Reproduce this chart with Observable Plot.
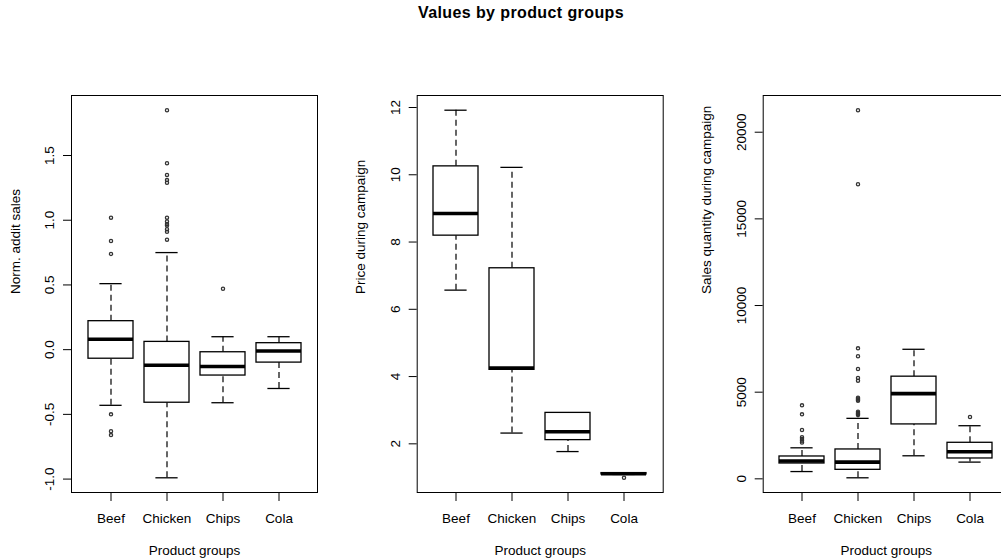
<!DOCTYPE html>
<html>
<head>
<meta charset="utf-8">
<script src="https://cdn.jsdelivr.net/npm/d3@7"></script>
<script src="https://cdn.jsdelivr.net/npm/@observablehq/plot@0.6"></script>
<style>
  html, body { margin: 0; padding: 0; background: #fff; overflow: hidden; }
  #wrap { position: relative; width: 1001px; height: 560px; overflow: hidden; }
  #title { position: absolute; left: 0; width: 1042px; top: 4px; text-align: center;
           font: bold 16px "Liberation Sans", Arial, sans-serif; letter-spacing: 0.4px; line-height: 1.15; color: #000; }
  .panel { position: absolute; top: 0; }
</style>
</head>
<body>
<div id="wrap">
  <div id="title">Values by product groups</div>
</div>
<script>
// ---------- data ----------
const groups = ["Beef", "Chicken", "Chips", "Cola"];

// Panel 1: Norm. addit sales
const normWhiskerLo = [-0.43, -0.99, -0.41, -0.30];
const normQ1        = [-0.07, -0.41, -0.20, -0.10];
const normMedian    = [ 0.08, -0.12, -0.13, -0.01];
const normQ3        = [ 0.22,  0.06, -0.02,  0.05];
const normWhiskerHi = [ 0.51,  0.75,  0.10,  0.10];
const normOutliers  = [
  [1.02, 0.84, 0.74, -0.50, -0.63, -0.66],
  [1.85, 1.44, 1.35, 1.31, 1.29, 1.02, 0.99, 0.97, 0.96, 0.93, 0.91, 0.85],
  [0.47],
  []
];
const normTicks = [-1.0, -0.5, 0.0, 0.5, 1.0, 1.5];

// Panel 2: Price during campaign
const priceWhiskerLo = [6.57, 2.32, 1.77, 1.09];
const priceQ1        = [8.19, 4.20, 2.11, 1.09];
const priceMedian    = [8.85, 4.25, 2.36, 1.11];
const priceQ3        = [10.25, 7.22, 2.92, 1.13];
const priceWhiskerHi = [11.92, 10.22, 2.92, 1.13];
const priceOutliers  = [[], [], [], [0.99]];
const priceTicks = [2, 4, 6, 8, 10, 12];

// Panel 3: Sales quantity during campaign
const qtyWhiskerLo = [420, 60, 1330, 965];
const qtyQ1        = [885, 520, 3140, 1175];
const qtyMedian    = [1025, 965, 4915, 1560];
const qtyQ3        = [1290, 1695, 5895, 2080];
const qtyWhiskerHi = [1790, 3490, 7475, 3065];
const qtyOutliers  = [
  [4240, 3720, 2815, 2400, 2300, 2200, 2100],
  [21270, 16995, 7530, 7070, 6340, 5820, 5665, 4680, 4620, 4560, 4500, 3870, 3800, 3740, 3680],
  [],
  [3565]
];
const qtyTicks = [0, 5000, 10000, 15000, 20000];

const xTitle = "Product groups";

// ---------- drawing ----------
const FONT = '"Liberation Sans", Arial, sans-serif';
const FS = 13.5;

function panel(cfg) {
  const stats = groups.map((g, i) => ({
    group: g, lo: cfg.lo[i], q1: cfg.q1[i], med: cfg.med[i], q3: cfg.q3[i], hi: cfg.hi[i]
  }));
  const outs = groups.flatMap((g, i) => cfg.out[i].map(v => ({group: g, value: v})));
  const all = stats.flatMap(s => [s.lo, s.hi]).concat(outs.map(o => o.value));
  const mn = d3.min(all), mx = d3.max(all), pad = (mx - mn) * 0.04;
  const frameW = 246;
  const width = 330;
  const bw = frameW / (groups.length - 0.2 + 2 * 0.26) * 0.8;
  const stapleInset = bw / 4;

  return Plot.plot({
    width, height: 560,
    marginLeft: cfg.ml, marginRight: width - cfg.ml - frameW,
    marginTop: 95, marginBottom: 68,
    style: {fontFamily: FONT, fontSize: FS + "px", color: "#000", background: "transparent", overflow: "visible"},
    x: {type: "band", domain: groups, paddingInner: 0.2, paddingOuter: 0.26, label: null, axis: null},
    y: {domain: [mn - pad, mx + pad], label: null, axis: null},
    marks: [
      Plot.frame({stroke: "#000", strokeWidth: 1}),
      // whiskers (dashed)
      Plot.ruleX(stats, {x: "group", y1: "q3", y2: "hi", stroke: "#000", strokeWidth: 1.2, strokeDasharray: "6,4"}),
      Plot.ruleX(stats, {x: "group", y1: "lo", y2: "q1", stroke: "#000", strokeWidth: 1.2, strokeDasharray: "6,4"}),
      // staples
      Plot.tickY(stats, {x: "group", y: "hi", stroke: "#000", strokeWidth: 1.3, insetLeft: stapleInset, insetRight: stapleInset}),
      Plot.tickY(stats, {x: "group", y: "lo", stroke: "#000", strokeWidth: 1.3, insetLeft: stapleInset, insetRight: stapleInset}),
      // boxes
      Plot.barY(stats, {x: "group", y1: "q1", y2: "q3", fill: "#fff", stroke: "#000", strokeWidth: 1.3}),
      // medians
      Plot.tickY(stats, {x: "group", y: "med", stroke: "#000", strokeWidth: 3.6}),
      // outliers
      Plot.dot(outs, {x: "group", y: "value", r: 1.6, stroke: "#333", strokeWidth: 1.3, fill: "none"}),
      // axes
      Plot.axisY({ticks: cfg.ticks, tickFormat: cfg.fmt, tickSize: 8, tickPadding: 9.5, tickRotate: -90,
                  label: null, fontSize: FS}),
      Plot.axisX({tickSize: 9, tickPadding: 12, label: null, fontSize: FS}),
      Plot.text([cfg.ylab], {frameAnchor: "left", rotate: -90, dx: -52, lineAnchor: "bottom", fontSize: FS, fill: "#000"}),
      Plot.text([xTitle], {frameAnchor: "bottom", dy: 62, lineAnchor: "bottom", fontSize: FS, fill: "#000"})
    ]
  });
}

const panels = [
  {left: 0, ml: 71, lo: normWhiskerLo, q1: normQ1, med: normMedian, q3: normQ3, hi: normWhiskerHi, out: normOutliers,
   ticks: normTicks, fmt: d => d.toFixed(1), ylab: "Norm. addit sales"},
  {left: 340, ml: 76.7, lo: priceWhiskerLo, q1: priceQ1, med: priceMedian, q3: priceQ3, hi: priceWhiskerHi, out: priceOutliers,
   ticks: priceTicks, fmt: d => String(d), ylab: "Price during campaign"},
  {left: 680, ml: 82.7, lo: qtyWhiskerLo, q1: qtyQ1, med: qtyMedian, q3: qtyQ3, hi: qtyWhiskerHi, out: qtyOutliers,
   ticks: qtyTicks, fmt: d => String(d), ylab: "Sales quantity during campaign"}
];

const wrap = document.getElementById("wrap");
for (const p of panels) {
  const svg = panel(p);
  svg.classList.add("panel");
  svg.style.left = p.left + "px";
  wrap.appendChild(svg);
}
</script>
</body>
</html>
